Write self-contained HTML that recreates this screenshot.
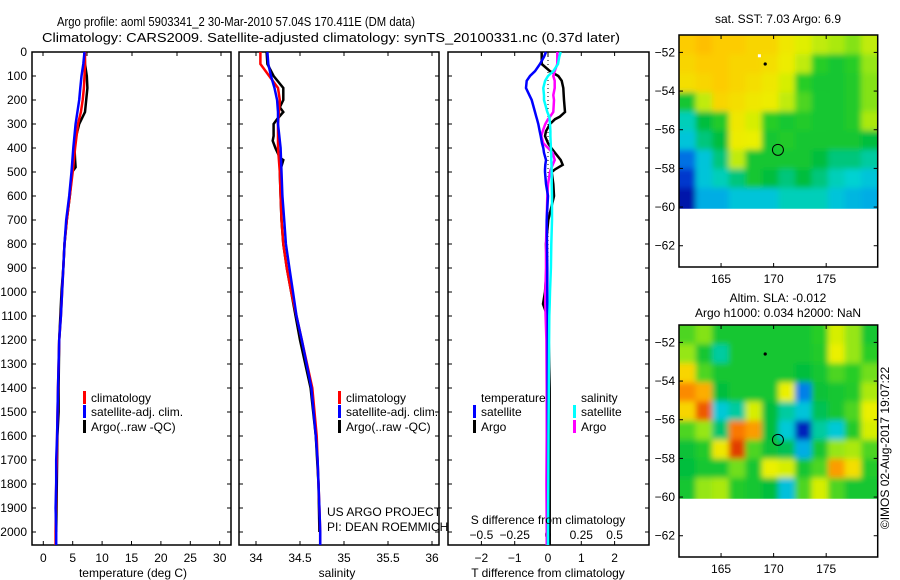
<!DOCTYPE html>
<html><head><meta charset="utf-8"><title>Argo profile</title>
<style>
html,body{margin:0;padding:0;background:#fff;}
svg{display:block;font-family:"Liberation Sans",sans-serif;}
text{fill:#000;}
</style></head>
<body>
<svg id="chart" width="900" height="580" viewBox="0 0 900 580" xmlns="http://www.w3.org/2000/svg">
<defs>
<filter id="blur" x="-5%" y="-5%" width="110%" height="110%"><feGaussianBlur stdDeviation="3"/></filter>
<clipPath id="clip1"><rect x="679" y="35" width="198.7" height="173.8"/></clipPath>
<clipPath id="clip2"><rect x="679" y="325" width="198.7" height="173.8"/></clipPath>
</defs>
<rect x="0" y="0" width="900" height="580" fill="#fff"/>
<text x="236" y="26" font-size="13" text-anchor="middle" textLength="358" lengthAdjust="spacingAndGlyphs">Argo profile: aoml 5903341_2 30-Mar-2010 57.04S 170.411E (DM data)</text>
<text x="331" y="42" font-size="13" text-anchor="middle" textLength="578" lengthAdjust="spacingAndGlyphs">Climatology: CARS2009. Satellite-adjusted climatology: synTS_20100331.nc (0.37d later)</text>
<g id="plots"></g>
</svg>
<script>
// ---------- data ----------
const depths = [0,50,100,150,200,250,300,400,500,600,700,800,900,1000,1100,1200,1400,1600,1700,1800,1900,2000,2054];
const tempClim = [7.1,7.1,7.0,6.9,6.7,6.4,5.9,5.4,5.0,4.5,4.0,3.6,3.4,3.2,3.0,2.7,2.5,2.35,2.3,2.2,2.15,2.1,2.1];
const tempSat  = [7.0,6.8,6.5,6.3,6.1,5.8,5.5,5.1,4.8,4.4,3.9,3.6,3.4,3.2,3.0,2.7,2.5,2.35,2.2,2.2,2.1,2.2,2.2];
const tempArgoDepths = [0,50,100,150,200,250,300,350,400,450,480,500,600,700,800,900,1000,1200,1400,1500,1600,1800,2000];
const tempArgo = [7.0,7.1,7.4,7.5,7.3,7.1,6.1,5.6,5.3,5.4,5.5,4.9,4.5,4.0,3.6,3.4,3.1,2.7,2.6,2.6,2.4,2.3,2.2];

const salClim = [34.05,34.05,34.15,34.25,34.27,34.26,34.25,34.25,34.27,34.28,34.29,34.31,34.35,34.4,34.46,34.52,34.64,34.69,34.7,34.71,34.72,34.73,34.73];
const salSat  = [34.13,34.14,34.17,34.21,34.24,34.25,34.25,34.28,34.29,34.3,34.32,34.34,34.38,34.42,34.46,34.52,34.63,34.68,34.7,34.71,34.72,34.73,34.73];
const argoDepths = [0,50,100,150,200,230,250,280,300,350,370,400,440,450,500,600,700,800,900,1000,1100,1200,1400,1600,1800,2000];
const salArgo = [34.12,34.13,34.2,34.31,34.31,34.27,34.31,34.24,34.2,34.2,34.19,34.22,34.27,34.31,34.27,34.28,34.29,34.31,34.35,34.4,34.45,34.5,34.62,34.68,34.71,34.72];

const diffDepths = [0,20,50,80,100,120,150,180,200,250,270,280,300,330,350,380,400,420,450,470,490,500,550,600,700,800,900,1000,1050,1100,1200,1400,1600,1800,2000,2054];
const dTsat  = [-0.06,-0.12,-0.24,-0.39,-0.54,-0.64,-0.66,-0.56,-0.49,-0.39,-0.35,-0.33,-0.29,-0.25,-0.22,-0.18,-0.14,-0.12,-0.06,-0.08,-0.09,-0.09,-0.06,0.0,-0.04,-0.03,-0.02,-0.02,-0.02,-0.01,-0.01,-0.01,0.0,0.0,0.0,0.0];
const dTargo = [-0.19,-0.19,-0.19,0.06,0.31,0.41,0.46,0.47,0.48,0.51,0.35,0.21,0.06,-0.06,-0.09,0.0,0.1,0.21,0.38,0.44,0.2,0.11,0.16,0.18,0.01,-0.06,-0.04,-0.09,-0.15,-0.02,0.02,0.05,0.05,0.05,0.05,0.05];
const dSsat  = [0.095,0.085,0.075,0.04,0.0,-0.022,-0.035,-0.03,-0.03,-0.005,0.01,0.012,0.015,0.018,0.018,0.02,0.022,0.024,0.025,0.026,0.027,0.028,0.028,0.03,0.03,0.025,0.022,0.015,0.013,0.01,0.008,0.006,0.004,0.002,0.0,0.0];
const dSargo = [0.07,0.07,0.07,0.05,0.04,0.05,0.05,0.04,0.045,0.04,0.015,0.0,-0.02,-0.04,-0.05,-0.035,0.0,0.035,0.05,0.035,0.02,0.015,0.0,-0.005,-0.01,-0.015,-0.015,-0.02,-0.02,-0.018,-0.012,-0.01,-0.01,-0.012,-0.01,-0.01];

const depthTicks = [0,100,200,300,400,500,600,700,800,900,1000,1100,1200,1300,1400,1500,1600,1700,1800,1900,2000];
const tempTicks = [0,5,10,15,20,25,30];
const salTicks = [34,34.5,35,35.5,36];
const salTickLabels = ["34","34.5","35","35.5","36"];
const dTTicks = [-2,-1,0,1,2];
const dSTicks = [-0.5,-0.25,0,0.25,0.5];
const dSTickLabels = ["\u22120.5","\u22120.25","0","0.25","0.5"];

const lonTicks = [165,170,175];
const latTicks = [-52,-54,-56,-58,-60,-62];
const sstGrid = [
 [0.82,0.84,0.82,0.82,0.80,0.80,0.76,0.73,0.70,0.68,0.65,0.70],
 [0.80,0.82,0.82,0.80,0.80,0.78,0.75,0.70,0.60,0.55,0.60,0.66],
 [0.78,0.80,0.82,0.80,0.78,0.76,0.72,0.60,0.55,0.55,0.58,0.65],
 [0.55,0.70,0.80,0.78,0.76,0.75,0.70,0.62,0.56,0.55,0.58,0.65],
 [0.40,0.50,0.58,0.76,0.72,0.60,0.56,0.58,0.56,0.55,0.58,0.68],
 [0.35,0.45,0.50,0.75,0.74,0.55,0.58,0.55,0.55,0.55,0.55,0.50],
 [0.20,0.35,0.45,0.70,0.55,0.55,0.55,0.55,0.50,0.45,0.45,0.42],
 [0.12,0.35,0.40,0.45,0.55,0.50,0.45,0.50,0.45,0.40,0.38,0.35],
 [0.05,0.30,0.30,0.35,0.35,0.35,0.40,0.40,0.40,0.35,0.32,0.30]];
const slaGrid = [
 [0.62,0.65,0.55,0.55,0.55,0.55,0.55,0.55,0.60,0.72,0.66,0.55],
 [0.66,0.55,0.42,0.55,0.55,0.55,0.55,0.55,0.58,0.74,0.66,0.60],
 [0.80,0.62,0.55,0.55,0.55,0.55,0.55,0.50,0.55,0.62,0.60,0.64],
 [0.90,0.86,0.50,0.55,0.55,0.55,0.74,0.22,0.52,0.55,0.58,0.68],
 [0.80,0.94,0.36,0.42,0.72,0.50,0.42,0.35,0.48,0.55,0.62,0.74],
 [0.62,0.66,0.46,0.92,0.88,0.50,0.36,0.08,0.42,0.36,0.58,0.72],
 [0.52,0.58,0.76,0.96,0.62,0.52,0.48,0.30,0.55,0.66,0.68,0.62],
 [0.50,0.55,0.55,0.64,0.55,0.74,0.72,0.55,0.62,0.88,0.78,0.58],
 [0.55,0.66,0.68,0.58,0.55,0.50,0.34,0.62,0.72,0.62,0.55,0.55]];

// ---------- helpers ----------
const NS = "http://www.w3.org/2000/svg";
const root = document.getElementById('plots');
function mk(tag, attrs, parent){ const e=document.createElementNS(NS,tag); for(const k in attrs) e.setAttribute(k,attrs[k]); (parent||root).appendChild(e); return e; }
function txt(x,y,s,size,anchor,parent){ const t=mk('text',{x:x,y:y,'font-size':size||12,'text-anchor':anchor||'middle'},parent); t.textContent=s; return t; }

const TOP=52, BOT=545;
function yD(d){ return TOP + d*0.24; }
const P1={l:32,r:231}, P2={l:239,r:439}, P3={l:448,r:649};
function xT(t){ return 43.3 + t*5.88; }
function xS(s){ return 256 + (s-34)*88; }
function xdT(t){ return 548 + t*33.3; }
function xdS(s){ return 548 + s*133.2; }

function frame(P,name){
  const r=mk('rect',{x:P.l,y:TOP,width:P.r-P.l,height:BOT-TOP,fill:'none',stroke:'#000','stroke-width':1.5});
  
  
  depthTicks.forEach(d=>{
    mk('line',{x1:P.l,x2:P.l+4,y1:yD(d),y2:yD(d),stroke:'#000','stroke-width':1});
    mk('line',{x1:P.r,x2:P.r-4,y1:yD(d),y2:yD(d),stroke:'#000','stroke-width':1});
  });
}
function line(xs,ds,fx,color,name,w){
  const pts=xs.map((v,i)=>fx(v).toFixed(1)+','+yD(ds[i]).toFixed(1)).join(' ');
  const p=mk('polyline',{points:pts,fill:'none',stroke:color,'stroke-width':w||2.5,'stroke-linejoin':'miter'});
  
  
}
function legendEntry(x,y,color,label,name){
  const g=mk('g',{});
  
  
  mk('rect',{x:x,y:y-11,width:3,height:13,fill:color},g);
  txt(x+8,y,label,12,'start',g);
}

// ---------- panel 1: temperature ----------
frame(P1,'temperature-plot-frame');
depthTicks.forEach(d=>{ const t=txt(27,yD(d)+4,String(d),12,'end');   });
tempTicks.forEach(t=>{ mk('line',{x1:xT(t),x2:xT(t),y1:BOT,y2:BOT-4,stroke:'#000'}); const l=txt(xT(t),562,String(t),12);   });
[43,87,132,177,221].forEach(x=>mk('line',{x1:x,x2:x,y1:TOP,y2:TOP+4,stroke:'#000'}));
line(tempArgo,tempArgoDepths,xT,'#000','temperature-argo-line',2.5);
line(tempClim,depths,xT,'#f00','temperature-climatology-line',2.5);
line(tempSat,depths,xT,'#00f','temperature-satellite-line',2.5);
{const t=txt(133,577,'temperature (deg C)',12);  }
legendEntry(83,402,'#f00','climatology','legend-climatology');
legendEntry(83,416,'#00f','satellite-adj. clim.','legend-satellite-adj');
legendEntry(83,431,'#000','Argo(..raw -QC)','legend-argo');

// ---------- panel 2: salinity ----------
frame(P2,'salinity-plot-frame');
salTicks.forEach((s,i)=>{ mk('line',{x1:xS(s),x2:xS(s),y1:BOT,y2:BOT-4,stroke:'#000'}); mk('line',{x1:xS(s),x2:xS(s),y1:TOP,y2:TOP+4,stroke:'#000'}); const l=txt(xS(s),562,salTickLabels[i],12);   });
line(salArgo,argoDepths,xS,'#000','salinity-argo-line',2.5);
line(salClim,depths,xS,'#f00','salinity-climatology-line',2.5);
line(salSat,depths,xS,'#00f','salinity-satellite-line',2.5);
{const t=txt(337,577,'salinity',12);  }
legendEntry(338,402,'#f00','climatology','legend-climatology-2');
legendEntry(338,416,'#00f','satellite-adj. clim.','legend-satellite-adj-2');
legendEntry(338,431,'#000','Argo(..raw -QC)','legend-argo-2');
{const t=txt(327,516,'US ARGO PROJECT',12,'start');  
 const u=txt(327,531,'PI: DEAN ROEMMICH',12,'start');  }

// ---------- panel 3: differences ----------
frame(P3,'difference-plot-frame');
mk('line',{x1:xdT(0),x2:xdT(0),y1:TOP,y2:BOT,stroke:'#000','stroke-width':1,'stroke-dasharray':'1,3'});
dTTicks.forEach(t=>{ mk('line',{x1:xdT(t),x2:xdT(t),y1:TOP,y2:TOP+4,stroke:'#000'}); const l=txt(xdT(t),562,t<0?'\u2212'+Math.abs(t):String(t),12);   });
dSTicks.forEach((s,i)=>{ mk('line',{x1:xdS(s),x2:xdS(s),y1:BOT,y2:BOT-4,stroke:'#000'}); const l=txt(xdS(s),539,dSTickLabels[i],12);   });
line(dTargo,diffDepths,xdT,'#000','t-diff-argo-line',2.5);
line(dSargo,diffDepths,xdS,'#f0f','s-diff-argo-line',2.5);
line(dTsat,diffDepths,xdT,'#00f','t-diff-satellite-line',2.5);
line(dSsat,diffDepths,xdS,'#0ff','s-diff-satellite-line',2.5);
{const t=txt(548,524,'S difference from climatology',12);  
 const u=txt(548,577,'T difference from climatology',12);  }
{const t=txt(481,402,'temperature',12,'start');  
 const u=txt(581,402,'salinity',12,'start');  }
legendEntry(473,416,'#00f','satellite','legend-t-satellite');
legendEntry(473,431,'#000','Argo','legend-t-argo');
legendEntry(573,416,'#0ff','satellite','legend-s-satellite');
legendEntry(573,431,'#f0f','Argo','legend-s-argo');

// ---------- maps ----------
const stops=[[0,0,0,140],[0.1,0,40,200],[0.25,0,150,240],[0.38,0,210,210],[0.5,0,190,60],[0.6,40,205,40],[0.66,150,230,20],[0.74,235,240,0],[0.83,255,200,0],[0.92,250,120,0],[1,200,0,0]];
function cmap(v){
  for(let i=1;i<stops.length;i++){
    if(v<=stops[i][0]){ const a=stops[i-1], b=stops[i], f=(v-a[0])/(b[0]-a[0]);
      return 'rgb('+[1,2,3].map(k=>Math.round(a[k]+(b[k]-a[k])*f)).join(',')+')'; }
  }
  return 'rgb(200,0,0)';
}
const ML=679, MR=877.7, LON0=161, LON1=179.9;
function mapPanel(top, grid, name, cellName, clip){
  const LAT0=-51.1, LAT1=-63.1, H=232;
  const xL=lon=>ML+(lon-LON0)/(LON1-LON0)*(MR-ML);
  const yL=lat=>top+(lat-LAT0)/(LAT1-LAT0)*H;
  const g=mk('g',{});
  
  
  const cg=mk('g',{'clip-path':'url(#'+clip+')'},g);
  const bg=mk('g',{filter:'url(#blur)'},cg);
  const rows=grid.length, cols=grid[0].length;
  const cw=(MR-ML)/cols, ch=(yL(-60)-top)/rows;
  for(let i=-1;i<=rows;i++) for(let j=-1;j<=cols;j++){
    const ii=Math.min(Math.max(i,0),rows-1), jj=Math.min(Math.max(j,0),cols-1);
    const c=mk('rect',{x:(ML+j*cw).toFixed(2),y:(top+i*ch).toFixed(2),width:(cw+0.6).toFixed(2),height:(ch+0.6).toFixed(2),fill:cmap(grid[ii][jj])},bg);
    
    
  }
  mk('rect',{x:ML,y:top,width:MR-ML,height:H,fill:'none',stroke:'#000','stroke-width':1.5},g);
  latTicks.forEach(l=>{ mk('line',{x1:ML,x2:ML+4,y1:yL(l),y2:yL(l),stroke:'#000'},g); mk('line',{x1:MR,x2:MR-4,y1:yL(l),y2:yL(l),stroke:'#000'},g); txt(675,yL(l)+4,'\u2212'+Math.abs(l),12,'end',g); });
  lonTicks.forEach(l=>{ mk('line',{x1:xL(l),x2:xL(l),y1:top,y2:top+4,stroke:'#000'},g); mk('line',{x1:xL(l),x2:xL(l),y1:top+H,y2:top+H-4,stroke:'#000'},g); txt(xL(l),top+H+16,String(l),12,'middle',g); });
  mk('circle',{cx:xL(170.411),cy:yL(-57.04),r:5.5,fill:'none',stroke:'#000','stroke-width':1},g);
  mk('circle',{cx:xL(169.2),cy:yL(-52.6),r:1.6,fill:'#000'},g);
  return {xL,yL};
}
const m1=mapPanel(35,sstGrid,'sst-map','sst-cell','clip1');
mk('rect',{x:m1.xL(168.6)-1,y:m1.yL(-52.2)-2,width:3,height:3,fill:'#fff'});
{const t=txt(778,23,'sat. SST: 7.03 Argo: 6.9',12);  }
mapPanel(325,slaGrid,'sla-map','sla-cell','clip2');
{const t=txt(778,302,'Altim. SLA: -0.012',12);  
 const u=txt(778,317,'Argo h1000: 0.034 h2000: NaN',12);  
 const v=txt(0,0,'\u00a9IMOS 02-Aug-2017 19:07:22',12,'middle'); v.setAttribute('transform','translate(889,448) rotate(-90)');  }
</script>
</body></html>
